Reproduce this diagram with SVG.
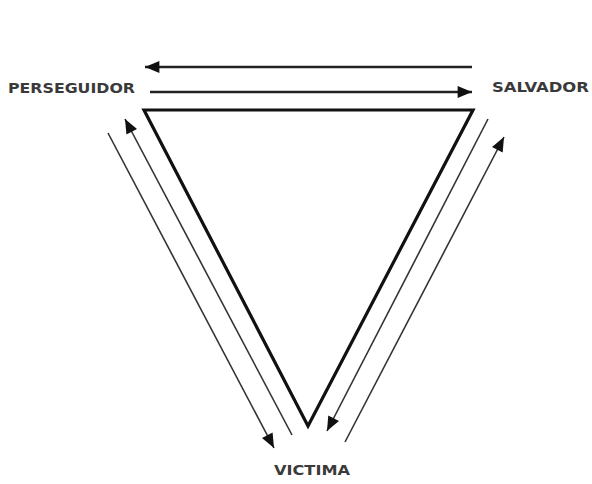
<svg xmlns="http://www.w3.org/2000/svg" width="592" height="484" viewBox="0 0 592 484">
<style>
.lbl{font-family:"DejaVu Sans Condensed","DejaVu Sans","Liberation Sans",sans-serif;font-weight:bold;font-size:14px;fill:#3a3a3a}
.tri{fill:none;stroke:#111;stroke-width:3.2;stroke-linejoin:miter}
.top{stroke:#222;stroke-width:2.6;fill:none}
.side{stroke:#333;stroke-width:1.6;fill:none}
</style>
<defs>
<marker id="ah" viewBox="0 0 12 10" refX="12" refY="5" markerWidth="15" markerHeight="12" markerUnits="userSpaceOnUse" orient="auto">
<path d="M0,0 L12,5 L0,10 Z" fill="#111"/>
</marker>
</defs>
<rect width="592" height="484" fill="#fff"/>
<g id="triangle">
<polygon class="tri" points="144,110 473,110 308,426"/>
</g>
<g id="perseguidor">
<text class="lbl" x="8" y="93" textLength="127" lengthAdjust="spacingAndGlyphs">PERSEGUIDOR</text>
</g>
<g id="salvador">
<text class="lbl" x="492" y="92" textLength="97" lengthAdjust="spacingAndGlyphs">SALVADOR</text>
</g>
<g id="victima">
<text class="lbl" x="274" y="475" textLength="76" lengthAdjust="spacingAndGlyphs">VICTIMA</text>
</g>
<g id="connectors">
<line class="top" x1="472" y1="67" x2="145" y2="67" marker-end="url(#ah)"/>
<line class="top" x1="150" y1="92" x2="472" y2="92" marker-end="url(#ah)"/>
<line class="side" x1="292" y1="435" x2="125" y2="119" marker-end="url(#ah)"/>
<line class="side" x1="108" y1="133" x2="274" y2="448" marker-end="url(#ah)"/>
<line class="side" x1="488" y1="119" x2="327" y2="431" marker-end="url(#ah)"/>
<line class="side" x1="345" y1="442" x2="504" y2="137" marker-end="url(#ah)"/>
</g>
</svg>
